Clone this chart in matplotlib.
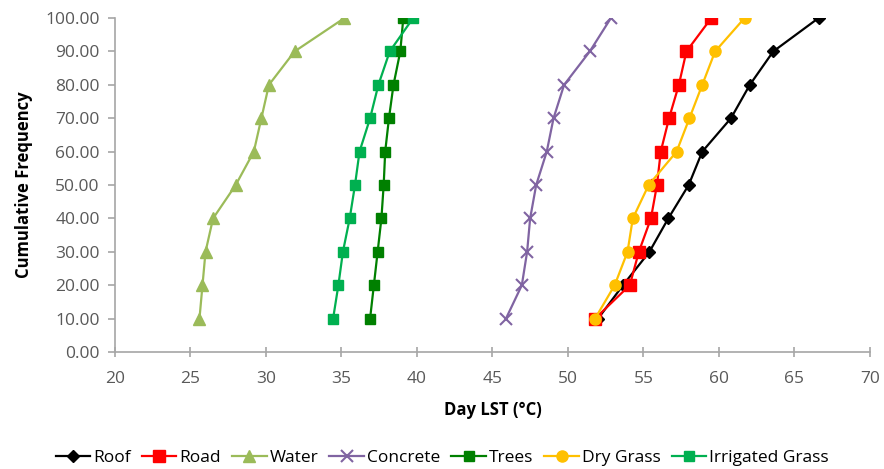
import matplotlib
matplotlib.use("Agg")
import matplotlib.pyplot as plt
from matplotlib.ticker import FormatStrFormatter

plt.rcParams['font.family'] = ['Open Sans', 'DejaVu Sans']

# cumulative frequency levels shared by every class
cum_freq = [10, 20, 30, 40, 50, 60, 70, 80, 90, 100]

# day LST (deg C) at each cumulative level
roof = [52.0, 53.65, 55.4, 56.65, 58.0, 58.9, 60.8, 62.05, 63.6, 66.6]
road = [51.8, 54.1, 54.7, 55.5, 55.9, 56.15, 56.7, 57.35, 57.85, 59.5]
water = [25.6, 25.8, 26.0, 26.5, 28.0, 29.2, 29.7, 30.2, 31.9, 35.2]
concrete = [45.9, 46.95, 47.3, 47.5, 47.9, 48.6, 49.05, 49.75, 51.45, 52.85]
trees = [36.9, 37.15, 37.4, 37.65, 37.8, 37.9, 38.15, 38.45, 38.9, 39.1]
dry_grass = [51.8, 53.1, 53.95, 54.3, 55.35, 57.2, 58.05, 58.9, 59.75, 61.7]
irrigated = [34.45, 34.8, 35.1, 35.55, 35.9, 36.2, 36.9, 37.45, 38.2, 39.75]

x_ticks = [20, 25, 30, 35, 40, 45, 50, 55, 60, 65, 70]
y_ticks = [0, 10, 20, 30, 40, 50, 60, 70, 80, 90, 100]

series = [
    ('Roof', roof, 'black', 'D', 6, 1),
    ('Road', road, '#ff0000', 's', 8, 1),
    ('Water', water, '#9bbb59', '^', 8, 1),
    ('Concrete', concrete, '#8064a2', 'x', 8, 1.5),
    ('Trees', trees, '#008000', 's', 7.5, 1),
    ('Dry Grass', dry_grass, '#ffc000', 'o', 8, 1),
    ('Irrigated Grass', irrigated, '#00b050', 's', 7.5, 1),
]

fig = plt.figure(figsize=(8.84, 4.69), dpi=100)
ax = fig.add_axes([0.130, 0.2495, 0.854, 0.712])

for name, vals, col, mk, ms, mew in series:
    ax.plot(vals, cum_freq, color=col, marker=mk, markersize=ms,
            markeredgewidth=mew, linewidth=1.6, label=name)

ax.set_xlim(20, 70)
ax.set_ylim(0, 100)
ax.set_xticks(x_ticks)
ax.set_yticks(y_ticks)
ax.yaxis.set_major_formatter(FormatStrFormatter('%.2f'))

for side in ('top', 'right'):
    ax.spines[side].set_visible(False)
for side in ('left', 'bottom'):
    ax.spines[side].set_color('#a6a6a6')
    ax.spines[side].set_linewidth(1.2)
ax.tick_params(axis='both', colors='#a6a6a6', labelcolor='#595959',
               labelsize=12.5, length=5, width=1.2)
ax.tick_params(axis='x', direction='inout', length=7, pad=10)
ax.tick_params(axis='y', direction='out', pad=6)

ax.set_xlabel('Day LST (°C)', fontsize=12, fontweight='bold', labelpad=10)
ax.set_ylabel('Cumulative Frequency', fontsize=12, fontweight='bold', labelpad=9)

fig.legend(loc='center', bbox_to_anchor=(0.5, 0.023), ncol=7, frameon=False,
           fontsize=12.5, handlelength=2.0, handletextpad=0.15, columnspacing=0.65)

fig.savefig('out.png', dpi=100)
